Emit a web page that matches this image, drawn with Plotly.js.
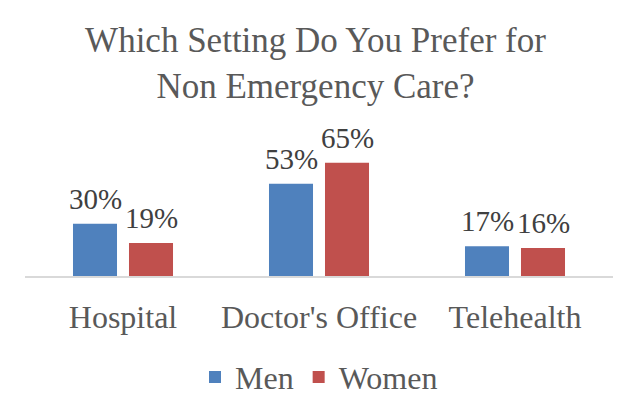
<!DOCTYPE html>
<html>
<head>
<meta charset="utf-8">
<script src="https://cdn.plot.ly/plotly-3.0.1.min.js"></script>
<style>html,body{margin:0;padding:0;background:#fff;}#chart{width:631px;height:409px;}</style>
</head>
<body>
<div id="chart"></div>
<script>
const categories = ["Hospital", "Doctor's Office", "Telehealth"];
const seriesNames = ["Men", "Women"];
const menValues = [30, 53, 17];
const womenValues = [19, 65, 16];
const seriesColors = ["#4f81bd", "#c0504d"];

const FONT = "Liberation Serif, Times New Roman, serif";
const seriesValues = [menValues, womenValues];
const traces = seriesValues.map((vals, i) => ({
  type: "bar",
  name: seriesNames[i],
  x: categories,
  y: vals,
  marker: {color: seriesColors[i]},
  hoverinfo: "skip"
}));

// data labels, placed from the data values
const labelShift = [-28, 28];
const annotations = [];
seriesValues.forEach((vals, i) => {
  vals.forEach((v, j) => {
    annotations.push({
      x: categories[j], y: v, xref: "x", yref: "y",
      text: v + "%", showarrow: false,
      xanchor: "center", yanchor: "bottom",
      xshift: labelShift[i], yshift: 7,
      font: {family: FONT, size: 29, color: "#404040"}
    });
  });
});

const layout = {
  width: 631, height: 409,
  margin: {l: 25, r: 18, t: 154, b: 133, autoexpand: false},
  paper_bgcolor: "#ffffff", plot_bgcolor: "#ffffff",
  title: {
    text: "Which Setting Do You Prefer for<br>Non Emergency Care?",
    font: {family: FONT, size: 35, color: "#595959"},
    x: 0.5, xanchor: "center",
    y: 0.872, yanchor: "top", yref: "container"
  },
  barmode: "group",
  bargap: 0.4286,
  bargroupgap: 0.214,
  xaxis: {
    showline: true, linecolor: "#d9d9d9", linewidth: 2,
    ticks: "", showgrid: false, zeroline: false,
    ticklabelstandoff: 12,
    tickfont: {family: FONT, size: 32, color: "#595959"}
  },
  yaxis: {
    range: [0, 70], visible: false, showgrid: false, zeroline: false
  },
  annotations: annotations,
  showlegend: true,
  legend: {
    orientation: "h", x: 0.5, xanchor: "center",
    y: 0.078, yanchor: "middle", yref: "container",
    font: {family: FONT, size: 32, color: "#595959"},
    itemclick: false
  }
};

Plotly.newPlot("chart", traces, layout, {staticPlot: true, displayModeBar: false});
</script>
</body>
</html>
